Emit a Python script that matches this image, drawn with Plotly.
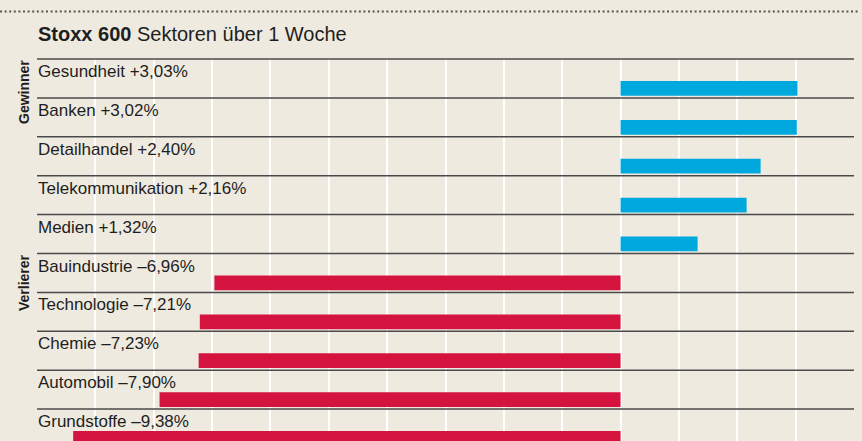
import plotly.graph_objects as go

# ---- data ----
sectors = ["Gesundheit", "Banken", "Detailhandel", "Telekommunikation", "Medien",
           "Bauindustrie", "Technologie", "Chemie", "Automobil", "Grundstoffe"]
values = [3.03, 3.02, 2.40, 2.16, 1.32, -6.96, -7.21, -7.23, -7.90, -9.38]
group_names = ["Gewinner", "Verlierer"]
group_start = [0, 5]
title_bold = "Stoxx 600"
title_rest = "Sektoren über 1 Woche"

# ---- styling / layout ----
W, H = 862, 441
L, R, T, B = 37, 8, 58, 0
ROW_TOP = 59          # pixel where first row starts
ROW_PX = 38.9         # row height in pixels
plot_h = H - T - B
y_top = -(ROW_TOP - T) / ROW_PX
y_bottom = (H - B - ROW_TOP) / ROW_PX

BG = "#EEEAE0"
BLUE = "#00A9DD"
RED = "#D5133F"
TXT = "#1E1E1E"
FONT = "Liberation Sans, Arial, sans-serif"


def paper_y(px):
    return (H - B - px) / plot_h


def paper_x(px):
    return (px - L) / (W - L - R)


def fmt(name, v):
    sign = "+" if v >= 0 else "–"
    return f"{name} {sign}{abs(v):.2f}%".replace(".", ",")


rows = list(range(len(sectors)))
colors = [BLUE if v > 0 else RED for v in values]

fig = go.Figure()
fig.add_trace(go.Bar(
    x=values,
    y=[r + 0.755 for r in rows],
    orientation="h",
    width=0.38,
    marker=dict(color=colors, line=dict(width=0)),
    hoverinfo="skip",
))

shapes = []
# row separators (incl. top line)
for r in rows:
    shapes.append(dict(type="line", xref="x", yref="y", x0=-10, x1=4, y0=r, y1=r,
                       line=dict(color="#4A4A4A", width=1.5), layer="above"))
# dotted rule at top
shapes.append(dict(type="line", xref="paper", yref="paper",
                   x0=paper_x(0), x1=paper_x(859), y0=paper_y(11.5), y1=paper_y(11.5),
                   line=dict(color="#555555", width=2, dash="2px,2.6px")))

annotations = []
for r, (s, v) in enumerate(zip(sectors, values)):
    annotations.append(dict(
        xref="x", yref="y", x=-10, y=r, xanchor="left", yanchor="top",
        xshift=-1.5, yshift=-1, showarrow=False, text=fmt(s, v),
        font=dict(family=FONT, size=17, color=TXT)))

for g, start in zip(group_names, group_start):
    annotations.append(dict(
        xref="paper", yref="y", x=paper_x(24), y=start, xanchor="center", yanchor="top",
        yshift=1, showarrow=False, textangle=-90, text=f"<b>{g}</b>",
        font=dict(family=FONT, size=14, color=TXT)))

annotations.append(dict(
    xref="paper", yref="paper", x=0, y=paper_y(34), xanchor="left", yanchor="middle",
    xshift=-1.5, showarrow=False, text=f"<b>{title_bold}</b> {title_rest}",
    font=dict(family=FONT, size=20, color=TXT)))

fig.update_layout(
    width=W, height=H, autosize=False,
    margin=dict(l=L, r=R, t=T, b=B, pad=0),
    paper_bgcolor=BG, plot_bgcolor=BG,
    showlegend=False,
    shapes=shapes,
    annotations=annotations,
    xaxis=dict(range=[-10, 4], dtick=1, tick0=0, showgrid=True, gridcolor="#FFFFFF",
               gridwidth=2, zeroline=False, showticklabels=False, ticks="",
               showline=False, fixedrange=True),
    yaxis=dict(range=[y_bottom, y_top], showgrid=False, zeroline=False,
               showticklabels=False, ticks="", showline=False, fixedrange=True),
)

fig.write_html(
    "out.html",
    config={"displayModeBar": False},
    post_script="document.body.style.margin='0';document.body.style.overflow='hidden';"
                "document.body.style.background='" + BG + "';",
)
